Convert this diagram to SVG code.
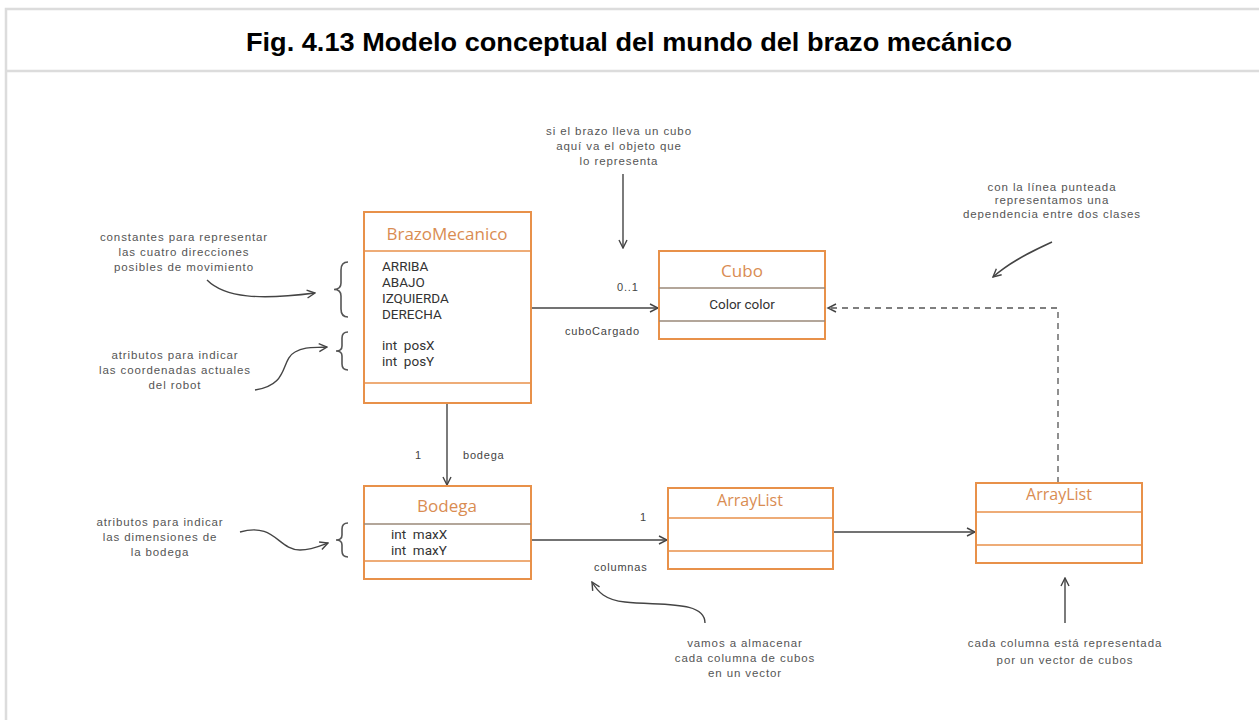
<svg xmlns="http://www.w3.org/2000/svg" width="1259" height="720" viewBox="0 0 1259 720">
<defs>
<style>
.frame{fill:#fff;stroke:#dcdcdc;stroke-width:2.5}
.title{font-family:"Liberation Sans",Arial,sans-serif;font-weight:bold;font-size:26px;fill:#000;text-anchor:middle}
.box{fill:#fff;stroke:#e8914a;stroke-width:2}
.sep{stroke:#e8914a;stroke-width:1.6}
.sepg{stroke:#9a8878;stroke-width:1.6}
.cname{font-family:"Open Sans","Noto Sans",sans-serif;font-size:17px;fill:#d98c52;text-anchor:middle}
.attr{font-family:Roboto,"Open Sans",sans-serif;font-size:13.5px;fill:#333}
.note{font-family:"Liberation Sans",Arial,sans-serif;font-size:11.5px;letter-spacing:0.9px;fill:#555;text-anchor:middle}
.lbl{font-family:"Liberation Sans",Arial,sans-serif;font-size:11px;letter-spacing:0.8px;fill:#444}
.conn{fill:none;stroke:#444;stroke-width:1.4}
.dash{fill:none;stroke:#555;stroke-width:1.3;stroke-dasharray:6 5}
.hand{fill:none;stroke:#444;stroke-width:1.4}
.brace{fill:none;stroke:#555;stroke-width:1.6}
</style>
<marker id="arr" viewBox="0 0 10 10" refX="9" refY="5" markerWidth="10" markerHeight="10" markerUnits="userSpaceOnUse" orient="auto">
<path d="M1,1 L9,5 L1,9" fill="none" stroke="#444" stroke-width="1.4"/>
</marker>
</defs>

<rect class="frame" x="6" y="9" width="1262" height="720"/>
<line x1="6" y1="71" x2="1259" y2="71" stroke="#dcdcdc" stroke-width="2.5"/>
<text class="title" x="629" y="51" textLength="766" lengthAdjust="spacingAndGlyphs">Fig. 4.13 Modelo conceptual del mundo del brazo mecánico</text>

<g id="connectors">
<line class="conn" x1="531" y1="308" x2="658" y2="308" marker-end="url(#arr)"/>
<line class="conn" x1="447" y1="403" x2="447" y2="485" marker-end="url(#arr)"/>
<line class="conn" x1="531" y1="540" x2="667" y2="540" marker-end="url(#arr)"/>
<line class="conn" x1="833" y1="532" x2="975" y2="532" marker-end="url(#arr)"/>
<path class="dash" d="M1058,483 L1058,308 L830,308"/>
<path d="M836,304 L828,308 L836,312" fill="none" stroke="#444" stroke-width="1.4"/>
<text class="lbl" x="617" y="291">0..1</text>
<text class="lbl" x="565" y="335">cuboCargado</text>
<text class="lbl" x="415" y="459">1</text>
<text class="lbl" x="463" y="459">bodega</text>
<text class="lbl" x="640" y="521">1</text>
<text class="lbl" x="594" y="571">columnas</text>
</g>

<g id="BrazoMecanico">
<rect class="box" x="364" y="212" width="167" height="191"/>
<line class="sep" x1="364" y1="251" x2="531" y2="251"/>
<line class="sep" x1="364" y1="383" x2="531" y2="383"/>
<text class="cname" x="447" y="240">BrazoMecanico</text>
<text class="attr" x="382" y="271">ARRIBA</text>
<text class="attr" x="382" y="287">ABAJO</text>
<text class="attr" x="382" y="303">IZQUIERDA</text>
<text class="attr" x="382" y="319">DERECHA</text>
<text class="attr" x="382" y="350">int&#160; posX</text>
<text class="attr" x="382" y="366">int&#160; posY</text>
</g>

<g id="Cubo">
<rect class="box" x="659" y="251" width="166" height="88"/>
<line class="sepg" x1="659" y1="288" x2="825" y2="288"/>
<line class="sepg" x1="659" y1="321" x2="825" y2="321"/>
<text class="cname" x="742" y="277">Cubo</text>
<text class="attr" x="742" y="309" text-anchor="middle">Color color</text>
</g>

<g id="Bodega">
<rect class="box" x="364" y="486" width="167" height="93"/>
<line class="sepg" x1="364" y1="524" x2="531" y2="524"/>
<line class="sep" x1="364" y1="561" x2="531" y2="561"/>
<text class="cname" x="447" y="512">Bodega</text>
<text class="attr" x="391" y="539">int&#160; maxX</text>
<text class="attr" x="391" y="555">int&#160; maxY</text>
</g>

<g id="ArrayList1">
<rect class="box" x="668" y="488" width="165" height="81"/>
<line class="sep" x1="668" y1="518" x2="833" y2="518"/>
<line class="sep" x1="668" y1="551" x2="833" y2="551"/>
<text class="cname" x="750" y="506" style="font-size:16px">ArrayList</text>
</g>

<g id="ArrayList2">
<rect class="box" x="976" y="483" width="166" height="80"/>
<line class="sep" x1="976" y1="512" x2="1142" y2="512"/>
<line class="sep" x1="976" y1="545" x2="1142" y2="545"/>
<text class="cname" x="1059" y="500" style="font-size:16px">ArrayList</text>
</g>

<g id="note-constantes">
<text class="note" x="184" y="241">constantes para representar</text>
<text class="note" x="184" y="256">las cuatro direcciones</text>
<text class="note" x="184" y="271">posibles de movimiento</text>
<path class="hand" d="M207,280 C225,298 260,300 315,293" marker-end="url(#arr)"/>
<path class="brace" d="M348,262 Q341,262 341,270 L341,283 Q341,289.5 334,289.5 Q341,289.5 341,296 L341,309 Q341,317 348,317"/>
</g>

<g id="note-atributos">
<text class="note" x="175" y="359">atributos para indicar</text>
<text class="note" x="175" y="374">las coordenadas actuales</text>
<text class="note" x="175" y="389">del robot</text>
<path class="hand" d="M255,390 C290,385 280,360 295,352 C305,346 315,348 327,347" marker-end="url(#arr)"/>
<path class="brace" d="M348,332 Q342,332 342,338 L342,346 Q342,351 336,351 Q342,351 342,356 L342,364 Q342,370 348,370"/>
</g>

<g id="note-cubo">
<text class="note" x="619" y="135">si el brazo lleva un cubo</text>
<text class="note" x="619" y="150">aquí va el objeto que</text>
<text class="note" x="619" y="165">lo representa</text>
<line class="hand" x1="623" y1="174" x2="623" y2="248" marker-end="url(#arr)"/>
</g>

<g id="note-dependencia">
<text class="note" x="1052" y="191">con la línea punteada</text>
<text class="note" x="1052" y="204">representamos una</text>
<text class="note" x="1052" y="218">dependencia entre dos clases</text>
<path class="hand" d="M1052,242 C1030,252 1010,262 993,277" marker-end="url(#arr)"/>
</g>

<g id="note-bodega">
<text class="note" x="160" y="526">atributos para indicar</text>
<text class="note" x="160" y="541">las dimensiones de</text>
<text class="note" x="160" y="556">la bodega</text>
<path class="hand" d="M240,532 C275,522 278,550 300,550 C312,550 320,546 328,543" marker-end="url(#arr)"/>
<path class="brace" d="M348,523 Q342,523 342,529 L342,535 Q342,540 336,540 Q342,540 342,545 L342,551 Q342,557 348,557"/>
</g>

<g id="note-columnas">
<text class="note" x="745" y="647">vamos a almacenar</text>
<text class="note" x="745" y="662">cada columna de cubos</text>
<text class="note" x="745" y="677">en un vector</text>
<path class="hand" d="M705,623 C705,600 660,606 625,602 C605,600 598,592 592,582" marker-end="url(#arr)"/>
</g>

<g id="note-vector">
<text class="note" x="1065" y="647">cada columna está representada</text>
<text class="note" x="1065" y="664">por un vector de cubos</text>
<line class="hand" x1="1065" y1="623" x2="1065" y2="578" marker-end="url(#arr)"/>
</g>
</svg>
